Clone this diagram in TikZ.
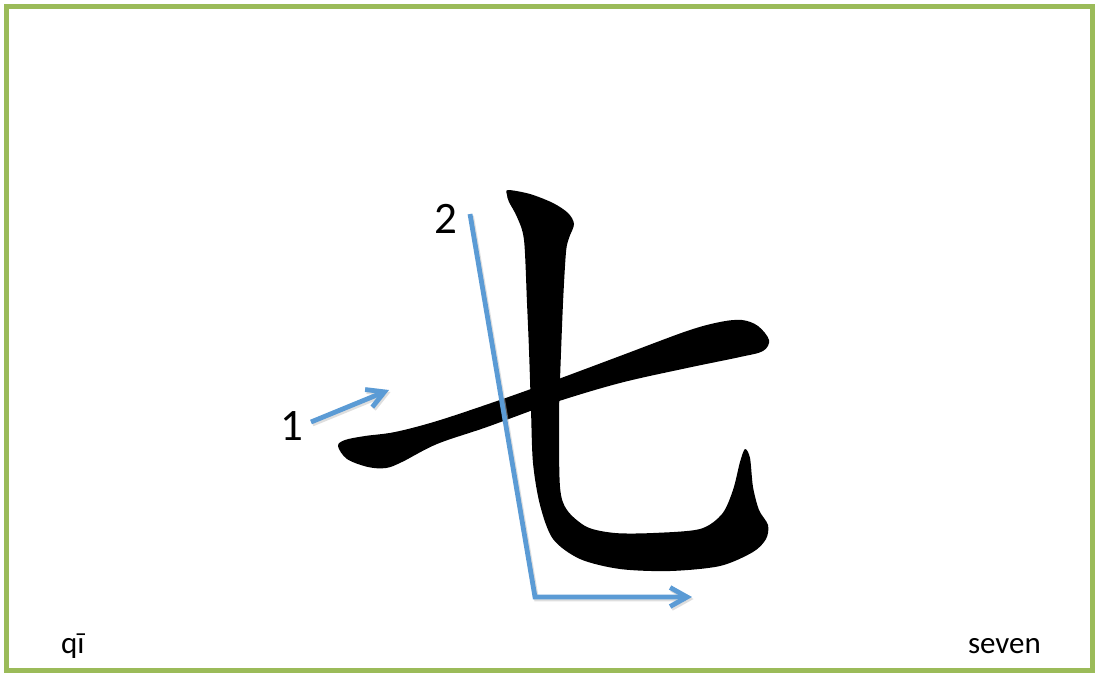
\documentclass[tikz,border=0pt]{standalone}
\usepackage{fontspec}
\setmainfont{Carlito}
\usetikzlibrary{arrows.meta}
\definecolor{framegreen}{HTML}{9BBB59}
\definecolor{strokeblue}{HTML}{5B9BD5}
\tikzset{
  frame/.style={draw=framegreen, line width=5pt},
  glyph/.style={fill=black, draw=none},
  strokearrow/.style={draw=strokeblue, line width=4.8pt, line join=miter,
    -{Straight Barb[length=17pt, width=19pt, line width=4.8pt]}},
  strokeshadow/.style={draw=black!25, opacity=0.5, line width=4.8pt, line join=miter,
    -{Straight Barb[length=17pt, width=19pt, line width=4.8pt]}},
  numlabel/.style={font=\fontsize{45}{45}\selectfont, anchor=base, inner sep=0pt},
  caption/.style={font=\fontsize{31}{31}\selectfont, anchor=base, inner sep=0pt}
}
\begin{document}
\begin{tikzpicture}[x=1pt, y=-1pt]
\useasboundingbox (0,0) rectangle (1097,673);
\fill[white] (0,0) rectangle (1097,673);
\draw[frame] (6.5,6.5) rectangle (1092,670);

% horizontal stroke
\fill[glyph] plot[smooth cycle, tension=0.55] coordinates {
 (338,446) (345,440) (365,436) (395,432) (437,421) (497,401) (553,381)
 (620,356) (687,331) (720,322) (742,320) (758,326) (769,340) (763,351)
 (740,357) (687,368) (620,383) (553,403) (487,427) (437,444) (402,462)
 (386,468) (368,467) (347,459)};

% vertical stroke with hook
\fill[glyph] plot[smooth cycle, tension=0.5] coordinates {
 (508,190) (530,194) (553,203) (568,213) (574,224) (569,238) (566,252)
 (563,303) (560,380) (559,420) (560,487) (567,510) (587,527) (615,533)
 (653,533) (700,529) (722,514) (733,490) (740,462) (745,449) (750,458)
 (753,487) (759,510) (768,525) (766,539) (753,552) (720,566) (670,571)
 (620,569) (580,559) (553,539) (540,505) (533,463) (531,410) (529,350)
 (527,303) (524,240) (517,217) (509,202) (507,195)};

% stroke order arrows
\coordinate (a1s) at (311,422);
\coordinate (a1e) at (389,390);
\coordinate (a2s) at (470,214);
\coordinate (a2c) at (535,597);
\coordinate (a2e) at (692,597);

\draw[strokeshadow] ([shift={(1.5,2)}]a1s) -- ([shift={(1.5,2)}]a1e);
\draw[strokeshadow] ([shift={(1.5,2)}]a2s) -- ([shift={(1.5,2)}]a2c) -- ([shift={(1.5,2)}]a2e);
\draw[strokearrow] (a1s) -- (a1e);
\draw[strokearrow] (a2s) -- (a2c) -- (a2e);

\node[numlabel] (n1) at (292,440) {1};
\node[numlabel] (n2) at (446,233) {2};

\node[caption, anchor=base west] (pinyin) at (61,653) {qī};
\node[caption, anchor=base east] (meaning) at (1041,653) {seven};
\end{tikzpicture}
\end{document}
